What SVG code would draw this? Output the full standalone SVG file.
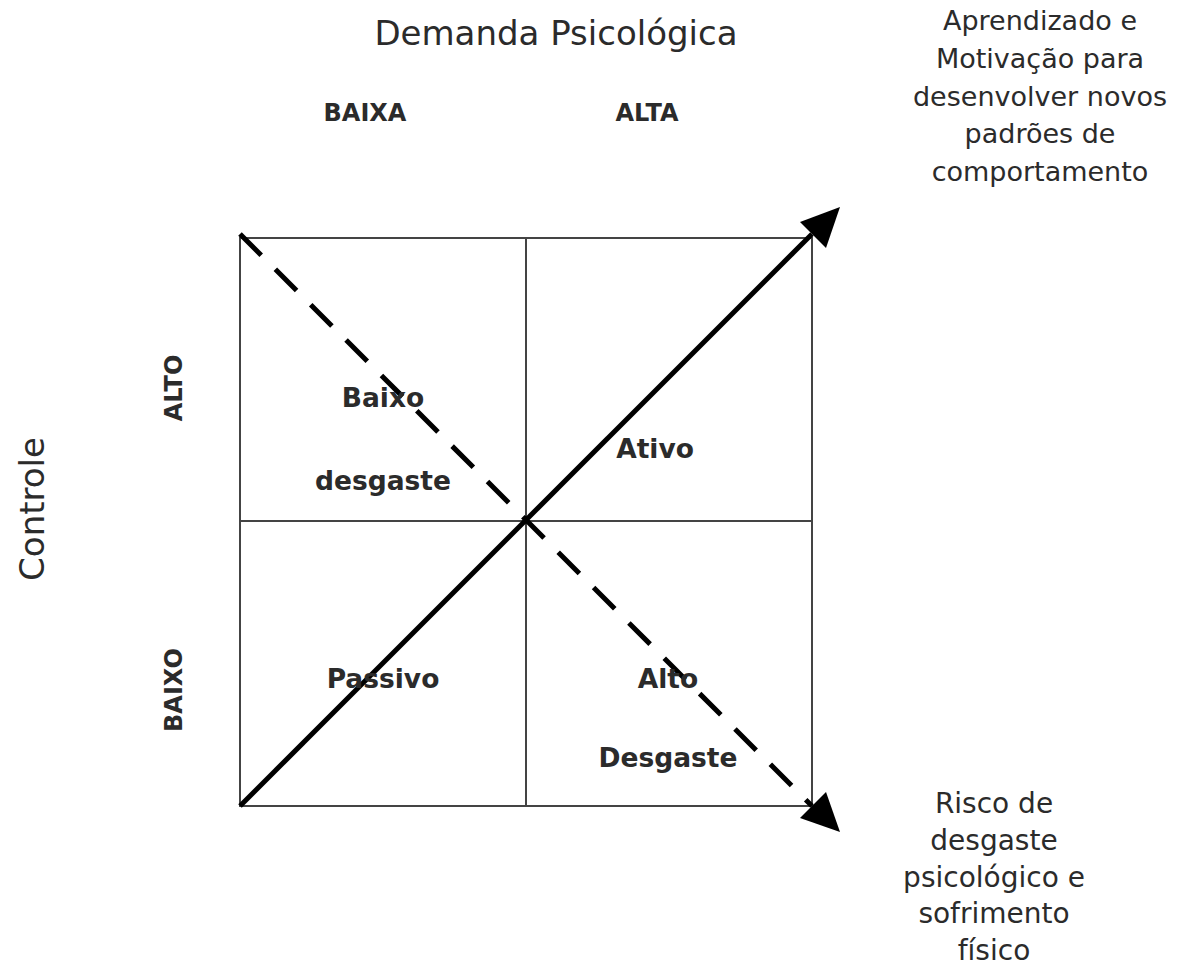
<svg xmlns="http://www.w3.org/2000/svg" width="1183" height="965" viewBox="0 0 1183 965">
<style>
text{font-family:"DejaVu Sans","Liberation Sans",sans-serif;fill:#2b2b2b;text-anchor:middle}
.t{font-size:34px}
.h{font-size:24px;font-weight:bold}
.q{font-size:26.5px;font-weight:bold}
.n{font-size:27px}
.m{font-size:28px}
.grid{stroke:#444;stroke-width:2;fill:none}
.arr{stroke:#000;stroke-width:5;fill:none}
</style>
<rect width="1183" height="965" fill="#fff"/>
<g id="grid">
<rect class="grid" x="240" y="238" width="572" height="568"/>
<line class="grid" x1="526" y1="238" x2="526" y2="806"/>
<line class="grid" x1="240" y1="521" x2="812" y2="521"/>
</g>
<g id="connectors">
<line class="arr" x1="240" y1="806" x2="812" y2="234"/>
<path d="M840,207 L826,248 L800,222 z" fill="#000"/>
<line class="arr" x1="240" y1="234" x2="812" y2="806" stroke-dasharray="30,20"/>
<path d="M840,832 L800,818 L826,792 z" fill="#000"/>
</g>
<g id="title"><text class="t" x="556" y="45">Demanda Psicológica</text></g>
<g id="baixa"><text class="h" x="365" y="121">BAIXA</text></g>
<g id="alta"><text class="h" x="647" y="121">ALTA</text></g>
<g id="controle"><text class="t" transform="translate(44,509) rotate(-90)">Controle</text></g>
<g id="alto"><text class="h" transform="translate(182,388) rotate(-90)">ALTO</text></g>
<g id="baixo"><text class="h" transform="translate(182,690) rotate(-90)">BAIXO</text></g>
<g id="baixo-desgaste"><text class="q" x="383" y="407">Baixo</text><text class="q" x="383" y="490">desgaste</text></g>
<g id="ativo"><text class="q" x="655" y="458">Ativo</text></g>
<g id="passivo"><text class="q" x="383" y="688">Passivo</text></g>
<g id="alto-desgaste"><text class="q" x="668" y="688">Alto</text><text class="q" x="668" y="767">Desgaste</text></g>
<g id="aprendizado">
<text class="n" x="1040" y="30">Aprendizado e</text>
<text class="n" x="1040" y="68">Motivação para</text>
<text class="n" x="1040" y="106">desenvolver novos</text>
<text class="n" x="1040" y="143">padrões de</text>
<text class="n" x="1040" y="181">comportamento</text>
</g>
<g id="risco">
<text class="m" x="994" y="813">Risco de</text>
<text class="m" x="994" y="850">desgaste</text>
<text class="m" x="994" y="887">psicológico e</text>
<text class="m" x="994" y="923">sofrimento</text>
<text class="m" x="994" y="960">físico</text>
</g>
</svg>
